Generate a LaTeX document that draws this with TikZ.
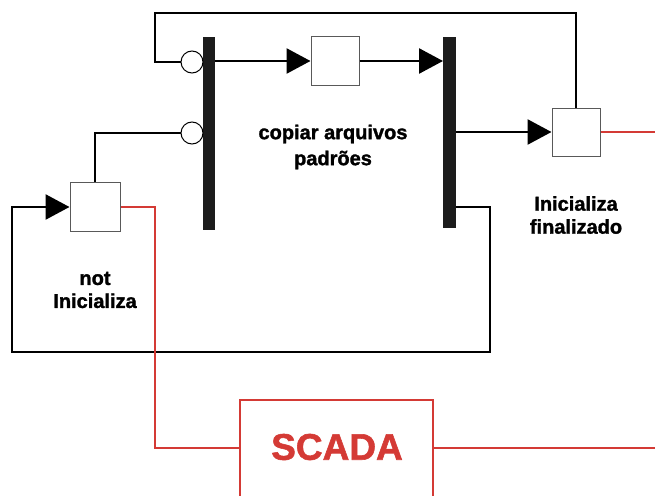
\documentclass[tikz,border=0pt]{standalone}
\usepackage{fontspec}
\setmainfont{Liberation Sans}
\newfontface\lblfont{Liberation Sans Bold}[FakeBold=1.5]
\usetikzlibrary{arrows.meta}
\definecolor{scred}{HTML}{D43A35}
\definecolor{bargray}{HTML}{1C1C1C}
\tikzset{
  wire/.style={line width=2.6pt, black},
  redwire/.style={line width=2.2pt, scred},
  arr/.style={wire, -{Triangle[length=24pt,width=25pt]}},
  blk/.style={draw=gray!70!black, line width=1pt, fill=white, minimum width=48pt, minimum height=48pt, inner sep=0pt},
  bar/.style={fill=bargray, draw=none},
  port/.style={circle, draw=black, line width=1pt, fill=white, minimum size=22pt, inner sep=0pt},
  lbl/.style={font=\lblfont\fontsize{20}{23}\selectfont, align=center, text=black},
}
\begin{document}
\begin{tikzpicture}[x=1pt,y=-1pt]
\useasboundingbox (0,0) rectangle (655,495);
% bars
\fill[bar] (203,37) rectangle (215,230);
\fill[bar] (443,37) rectangle (456,228);
\coordinate (b1a) at (215,61);
\coordinate (b2in) at (443,61);
\coordinate (b2a) at (456,132);
\coordinate (b2b) at (456,207);
% blocks
\node[blk, minimum width=50pt, minimum height=49pt] (not) at (95,207) {};
\node[blk] (copy) at (335,61) {};
\node[blk] (fin) at (576,132) {};
\node[port] (p1) at (192,62) {};
\node[port] (p2) at (192,133) {};
% SCADA
\draw[scred, line width=2.2pt] (240,505) |- (433,400) -- (433,505);
\node[font=\lblfont\fontsize{37}{40}\selectfont, text=scred] (scada) at (337,447) {SCADA};
\coordinate (scL) at (240,448);
\coordinate (scR) at (433,448);
% labels
\node[lbl, font=\lblfont\fontsize{20}{26}\selectfont] (l1) at (333,147) {copiar arquivos\\padrões};
\node[lbl] (l2) at (576,215) {Inicializa\\finalizado};
\node[lbl] (l3) at (95,290) {not\\Inicializa};
% black wires
\draw[arr] (b1a) -- (copy.west);
\draw[arr] (copy.east) -- (b2in);
\draw[arr] (b2a) -- (fin.west);
\draw[wire] (p1.west) -- (155,62) -- (155,13) -| (fin.north);
\draw[wire] (p2.west) -| (not.north);
\draw[arr] (b2b) -- (490,207) -- (490,352) -- (12,352) |- (not.west);
% red wires
\draw[redwire] (not.east) -- (155,207) |- (scL);
\draw[redwire] (scR) -- (655,448);
\draw[redwire] (fin.east) -- (655,132);
\end{tikzpicture}
\end{document}
